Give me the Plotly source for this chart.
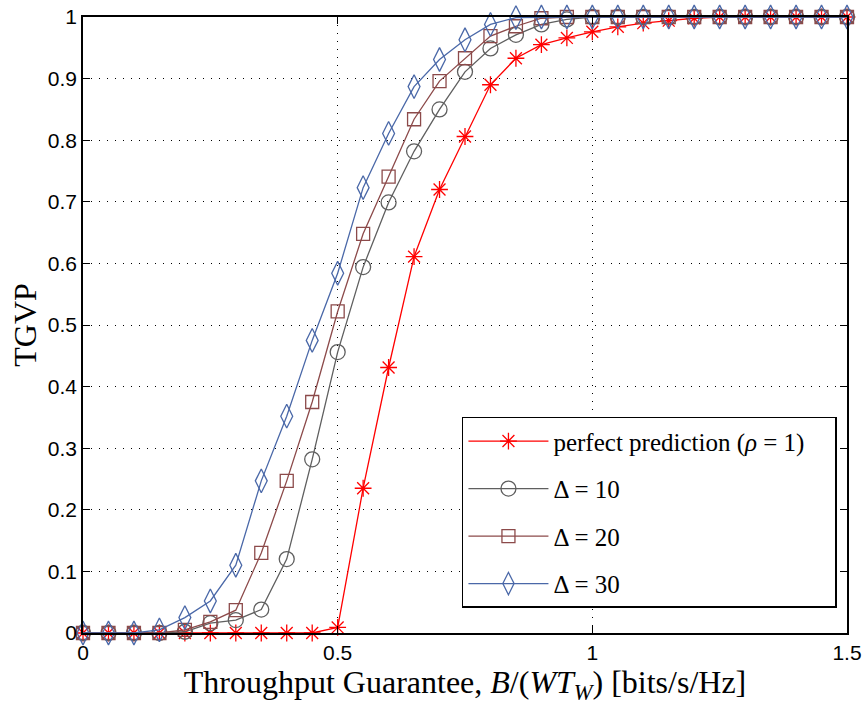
import plotly.graph_objects as go

x_vals = [round(0.05 * i, 2) for i in range(31)]

perfect = [0, 0, 0, 0, 0, 0, 0, 0, 0, 0, 0.009, 0.235, 0.431, 0.611, 0.720, 0.806,
           0.890, 0.933, 0.955, 0.966, 0.976, 0.984, 0.990, 0.994, 0.998, 1, 1, 1, 1, 1, 1]
delta10 = [0, 0, 0, 0, 0.002, 0.016, 0.021, 0.038, 0.120, 0.282, 0.456, 0.594, 0.699, 0.782,
           0.850, 0.911, 0.949, 0.971, 0.988, 0.996, 1, 1, 1, 1, 1, 1, 1, 1, 1, 1, 1]
delta20 = [0, 0, 0, 0, 0.005, 0.018, 0.037, 0.130, 0.247, 0.375, 0.522, 0.648, 0.741, 0.834,
           0.896, 0.933, 0.969, 0.985, 0.998, 1, 1, 1, 1, 1, 1, 1, 1, 1, 1, 1, 1]
delta30 = [0, 0, 0, 0.005, 0.025, 0.052, 0.110, 0.247, 0.352, 0.475, 0.584, 0.723, 0.811,
           0.887, 0.931, 0.963, 0.988, 0.999, 1, 1, 1, 1, 1, 1, 1, 1, 1, 1, 1, 1, 1]

series_names = ["perfect prediction (<i>ρ</i> = 1)\u00a0\u00a0\u00a0\u00a0", "Δ = 10", "Δ = 20", "Δ = 30"]
series_vals = [perfect, delta10, delta20, delta30]
series_colors = ["#ff0000", "#5f5f5f", "#8c4a4a", "#4a68a8"]
series_symbols = ["asterisk-open", "circle-open", "square-open", "diamond-tall-open"]
series_sizes = [14, 15, 13, 17]

y_ticks = [round(0.1 * i, 1) for i in range(11)]
y_ticklabels = ["0", "0.1", "0.2", "0.3", "0.4", "0.5", "0.6", "0.7", "0.8", "0.9", "1"]
x_ticks = [0, 0.5, 1, 1.5]
x_ticklabels = ["0", "0.5", "1", "1.5"]

fig = go.Figure()
for i, (name, vals, col, sym, sz) in enumerate(zip(series_names, series_vals, series_colors,
                                                   series_symbols, series_sizes)):
    fig.add_trace(go.Scatter(
        x=x_vals, y=vals, name=name, mode="lines+markers",
        line=dict(color=col, width=1.3),
        marker=dict(symbol=sym, size=sz, color=col, line=dict(color=col, width=1.3)),
        cliponaxis=False, legendgroup=f"g{i}",
    ))

axis_common = dict(
    showline=True, linecolor="black", linewidth=1.5, mirror="allticks",
    ticks="inside", ticklen=7, tickcolor="black", tickwidth=1,
    showgrid=True, gridcolor="black", gridwidth=1, griddash="1px,7px",
    zeroline=False, automargin=False,
    tickfont=dict(family="Liberation Sans, Arial", size=21, color="black"),
)

fig.update_xaxes(range=[0, 1.5], tickvals=x_ticks, ticktext=x_ticklabels,
                 title=dict(text="Throughput Guarantee, <i>B</i>/(<i>WT</i><sub><i>W</i></sub>) [bits/s/Hz]",
                            font=dict(family="Liberation Serif, serif", size=32, color="black"),
                            standoff=3),
                 **axis_common)
fig.update_yaxes(range=[0, 1], tickvals=y_ticks, ticktext=y_ticklabels,
                 title=dict(text="TGVP",
                            font=dict(family="Liberation Serif, serif", size=32, color="black"),
                            standoff=2),
                 **axis_common)

fig.update_layout(
    width=864, height=708,
    margin=dict(l=83, r=17, t=17, b=75),
    plot_bgcolor="white", paper_bgcolor="white",
    legend=dict(x=0.496, y=0.351, xanchor="left", yanchor="top",
                bgcolor="white", bordercolor="black", borderwidth=1.5,
                font=dict(family="Liberation Serif, serif", size=25, color="black"),
                tracegroupgap=12, itemwidth=80),
    showlegend=True,
)

fig.write_html("out.html")
